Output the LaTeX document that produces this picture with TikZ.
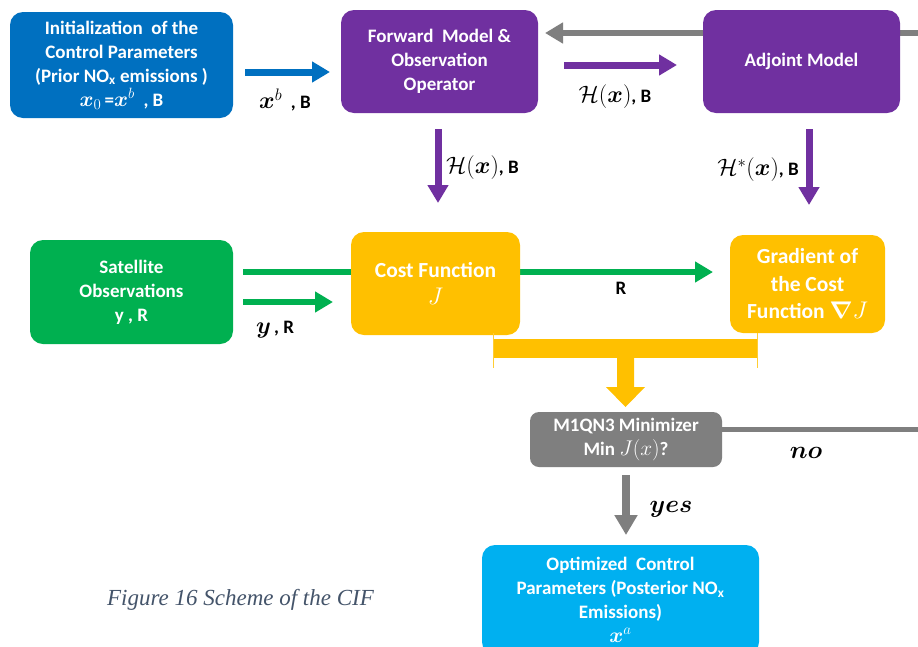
\RequirePackage{fix-cm}
\documentclass[tikz,border=0pt]{standalone}
\usepackage{amsmath}
\usepackage{bm}
\usepackage{graphicx}
\usepackage{fontspec}
\setmainfont{Carlito}
\newfontfamily\capfont{Liberation Serif}
\usetikzlibrary{arrows.meta}
\newcommand\mth[1]{\scalebox{1.25}{$#1$}}
\newcommand\mthb[1]{\scalebox{1.12}{$#1$}}
\definecolor{cblue}{HTML}{0070C0}
\definecolor{cpurple}{HTML}{7030A0}
\definecolor{cgreen}{HTML}{00B050}
\definecolor{cgold}{HTML}{FFC000}
\definecolor{cgray}{HTML}{7F7F7F}
\definecolor{clight}{HTML}{00B0F0}
\definecolor{ccap}{HTML}{44546A}
\tikzset{
  box/.style={rounded corners=13pt, draw=none, text=white, align=center, inner sep=0pt,
    font=\bfseries\fontsize{19}{24}\selectfont},
  bigbox/.style={box, font=\bfseries\fontsize{21.5}{27.5}\selectfont},
  fat/.style={line width=#1, -{Triangle[length=18pt,width=20pt]}},
  lbl/.style={inner sep=0pt, font=\bfseries\fontsize{19}{22}\selectfont, text=black},
}
\begin{document}
\begin{tikzpicture}[x=1pt,y=-1pt]
\useasboundingbox (0,0) rectangle (918,646);
\clip (0,0) rectangle (918,646);
\fill[white] (0,0) rectangle (918,646);

% free ends of connectors
\coordinate (b1) at (245,72);   \coordinate (b2) at (330,72);
\coordinate (p1) at (564,65);   \coordinate (p2) at (677,65);
\coordinate (g1) at (918,33);   \coordinate (g2) at (545,33);
\coordinate (d1) at (438,129);  \coordinate (d2) at (438,203);
\coordinate (e1) at (809,129);  \coordinate (e2) at (809,205);
\coordinate (s1) at (243,272);  \coordinate (s2) at (713,272);
\coordinate (t1) at (243,302);  \coordinate (t2) at (333,302);
\coordinate (n1) at (700,429);  \coordinate (n2) at (918,429);
\coordinate (y1) at (626,475);  \coordinate (y2) at (626,535);

% lines drawn behind boxes
\draw[cgray, fat=6pt] (g1) -- (g2);
\draw[cgreen, fat=6pt] (s1) -- (s2);
\draw[cgray, line width=5pt] (n1) -- (n2);

% boxes
\node[box, fill=cblue, minimum width=223pt, minimum height=106pt] (init) at (121.5,65)
  {Initialization\ \ of the\\Control Parameters\\(Prior NO\textsubscript{x} emissions )\\\mthb{\bm{x}_0}\,=\mthb{\bm{x}^b}\ \ , B};
\node[box, fill=cpurple, minimum width=197pt, minimum height=103pt] (fwd) at (439.5,61.5)
  {Forward\ \ Model \&\\Observation\\Operator};
\node[box, fill=cpurple, minimum width=197pt, minimum height=103pt] (adj) at (801.5,61.5)
  {Adjoint Model};
\node[box, fill=cgreen, minimum width=203pt, minimum height=104pt] (sat) at (131.5,292)
  {Satellite\\Observations\\y , R};
\node[bigbox, fill=cgold, minimum width=169pt, minimum height=103pt] (cost) at (435.5,283.5)
  {Cost Function\\\mthb{J}};
\node[bigbox, fill=cgold, minimum width=155pt, minimum height=98pt] (grad) at (807.5,284)
  {Gradient of\\the Cost\\Function \mthb{\bm{\nabla} J}};
\node[box, rounded corners=9pt, fill=cgray, minimum width=192pt, minimum height=55pt] (mini) at (626,439.5)
  {M1QN3 Minimizer\\Min \mthb{J(x)}?};
\node[box, fill=clight, minimum width=277pt, minimum height=110pt] (opt) at (620.5,600)
  {Optimized\ \ Control\\Parameters (Posterior NO\textsubscript{x}\\Emissions)\\\mthb{\bm{x}^a}};

% arrows
\draw[cblue, fat=7pt] (b1) -- (b2);
\draw[cpurple, fat=7pt] (p1) -- (p2);
\draw[cpurple, fat=7pt] (d1) -- (d2);
\draw[cpurple, fat=7pt] (e1) -- (e2);
\draw[cgreen, fat=6pt] (t1) -- (t2);
\draw[cgray, line width=8pt, -{Triangle[length=20pt,width=22pt]}] (y1) -- (y2);

% gold merge bracket
\fill[cgold] (493,339) rectangle (757,358);
\draw[cgold!80, line width=0.8pt] (493,333) -- (493,368) (757,333) -- (757,368);
\fill[cgold] (617,357) -- (634,357) -- (634,387) -- (645,387) -- (625.5,407) -- (606,387) -- (617,387) -- cycle;

% labels
\node[lbl] (lb1) at (285,100) {\mth{\bm{x}^b}\ \ , B};
\node[lbl] (lb2) at (615,97) {\mth{\mathcal{H}(\bm{x})}, B};
\node[lbl, anchor=west] (lb3) at (446,168) {\mth{\mathcal{H}(\bm{x})}, B};
\node[lbl, anchor=east] (lb4) at (799,170) {\mth{\mathcal{H}^*(\bm{x})}, B};
\node[lbl] (lb5) at (275,330) {\mth{\bm{y}}\,, R};
\node[lbl] (lb6) at (621,288) {R};
\node[lbl, font=\fontsize{20}{24}\selectfont] (lb7) at (806,453) {\mth{\bm{no}}};
\node[lbl, font=\fontsize{20}{24}\selectfont] (lb8) at (671,509) {\mth{\bm{yes}}};
\node[inner sep=0pt, text=ccap, font=\capfont\itshape\fontsize{23}{26}\selectfont] (cap) at (240.5,600)
  {Figure 16 Scheme of the CIF};
\end{tikzpicture}
\end{document}
